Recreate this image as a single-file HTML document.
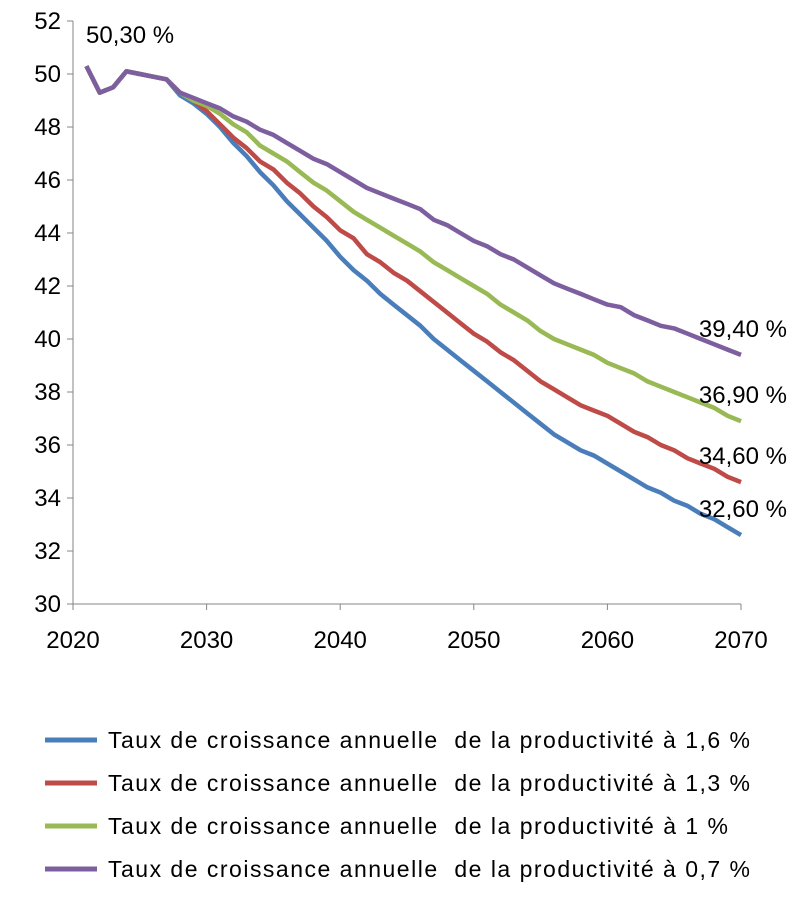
<!DOCTYPE html>
<html><head><meta charset="utf-8"><style>
body{margin:0;background:#fff;}
svg{display:block;font-family:"Liberation Sans",sans-serif;}
</style></head><body>
<svg id="chart" width="806" height="901" viewBox="0 0 806 901" xmlns="http://www.w3.org/2000/svg">
<g id="axes"></g><g id="series"></g><g id="labels"></g><g id="legend"></g>
</svg>
<script>
const years=[];for(let y=2021;y<=2070;y++)years.push(y);
const common=[50.3,49.3,49.5,50.1,50.0,49.9,49.8];
const blue=[49.2,48.9,48.5,48.0,47.4,46.9,46.3,45.8,45.2,44.7,44.2,43.7,43.1,42.6,42.2,41.7,41.3,40.9,40.5,40.0,39.6,39.2,38.8,38.4,38.0,37.6,37.2,36.8,36.4,36.1,35.8,35.6,35.3,35.0,34.7,34.4,34.2,33.9,33.7,33.4,33.2,32.9,32.6];
const red=[49.3,49.0,48.6,48.1,47.6,47.2,46.7,46.4,45.9,45.5,45.0,44.6,44.1,43.8,43.2,42.9,42.5,42.2,41.8,41.4,41.0,40.6,40.2,39.9,39.5,39.2,38.8,38.4,38.1,37.8,37.5,37.3,37.1,36.8,36.5,36.3,36.0,35.8,35.5,35.3,35.1,34.8,34.6];
const green=[49.3,49.0,48.8,48.5,48.1,47.8,47.3,47.0,46.7,46.3,45.9,45.6,45.2,44.8,44.5,44.2,43.9,43.6,43.3,42.9,42.6,42.3,42.0,41.7,41.3,41.0,40.7,40.3,40.0,39.8,39.6,39.4,39.1,38.9,38.7,38.4,38.2,38.0,37.8,37.6,37.4,37.1,36.9];
const purple=[49.3,49.1,48.9,48.7,48.4,48.2,47.9,47.7,47.4,47.1,46.8,46.6,46.3,46.0,45.7,45.5,45.3,45.1,44.9,44.5,44.3,44.0,43.7,43.5,43.2,43.0,42.7,42.4,42.1,41.9,41.7,41.5,41.3,41.2,40.9,40.7,40.5,40.4,40.2,40.0,39.8,39.6,39.4];
const yTicks=[30,32,34,36,38,40,42,44,46,48,50,52];
const xTicks=[2020,2030,2040,2050,2060,2070];
const endLabels=["32,60 %","34,60 %","36,90 %","39,40 %"];
const startLabel="50,30 %";
const legendLabels=["Taux de croissance annuelle  de la productivité à 1,6 %","Taux de croissance annuelle  de la productivité à 1,3 %","Taux de croissance annuelle  de la productivité à 1 %","Taux de croissance annuelle  de la productivité à 0,7 %"];
const legendWidths=[642,642,620,642];
const colors=["#4a7ebb","#be4b48","#98b954","#7d5fa0"];
const NS="http://www.w3.org/2000/svg";
const X=v=>73+(v-2020)*(741-73)/50;
const Y=v=>604-(v-30)*(604-21)/22;
function mk(t,a,p){const e=document.createElementNS(NS,t);for(const k in a)e.setAttribute(k,a[k]);p.appendChild(e);return e;}
const ax=document.getElementById('axes');
let l=mk('line',{x1:73,y1:Y(52),x2:73,y2:604,stroke:'#868686','stroke-width':1},ax);


l=mk('line',{x1:73,y1:604,x2:741,y2:604,stroke:'#868686','stroke-width':1},ax);


yTicks.forEach(v=>{
 mk('line',{x1:67,y1:Y(v),x2:73,y2:Y(v),stroke:'#868686'},ax);
 const t=mk('text',{x:61,y:Y(v)+8,'text-anchor':'end','font-size':24,fill:'#000'},ax);
 t.textContent=v;
 
 
});
xTicks.forEach(v=>{
 mk('line',{x1:X(v),y1:604,x2:X(v),y2:610,stroke:'#868686'},ax);
 const t=mk('text',{x:X(v),y:648,'text-anchor':'middle','font-size':24,fill:'#000'},ax);
 t.textContent=v;
 
 
});
const sg=document.getElementById('series');
const names=['series-1-6','series-1-3','series-1','series-0-7'];
[blue,red,green,purple].forEach((s,i)=>{
 const vals=common.concat(s);
 const pts=vals.map((v,j)=>X(years[j]).toFixed(1)+','+Y(v).toFixed(1)).join(' ');
 const p=mk('polyline',{points:pts,fill:'none',stroke:colors[i],'stroke-width':4.5,'stroke-linejoin':'round'},sg);
 
 
});
const lg=document.getElementById('labels');
let t=mk('text',{x:86,y:Y(common[0])-23,'font-size':24,fill:'#000'},lg);
t.textContent=startLabel;


const offs=[-18,-18,-18,-18];
[blue,red,green,purple].forEach((s,i)=>{
 const tt=mk('text',{x:787,y:Y(s[s.length-1])+offs[i],'text-anchor':'end','font-size':24,fill:'#000'},lg);
 tt.textContent=endLabels[i];
 
 
});
const leg=document.getElementById('legend');
legendLabels.forEach((s,i)=>{
 const y=740+i*43;
 const ln=mk('line',{x1:45,y1:y,x2:97,y2:y,stroke:colors[i],'stroke-width':5},leg);
 
 
 const tx=mk('text',{x:108,y:y+8,'font-size':23,fill:'#000',textLength:legendWidths[i],lengthAdjust:'spacing'},leg);
 tx.setAttribute('style','white-space:pre');
 tx.textContent=s;
 
 
});
</script>
</body></html>
